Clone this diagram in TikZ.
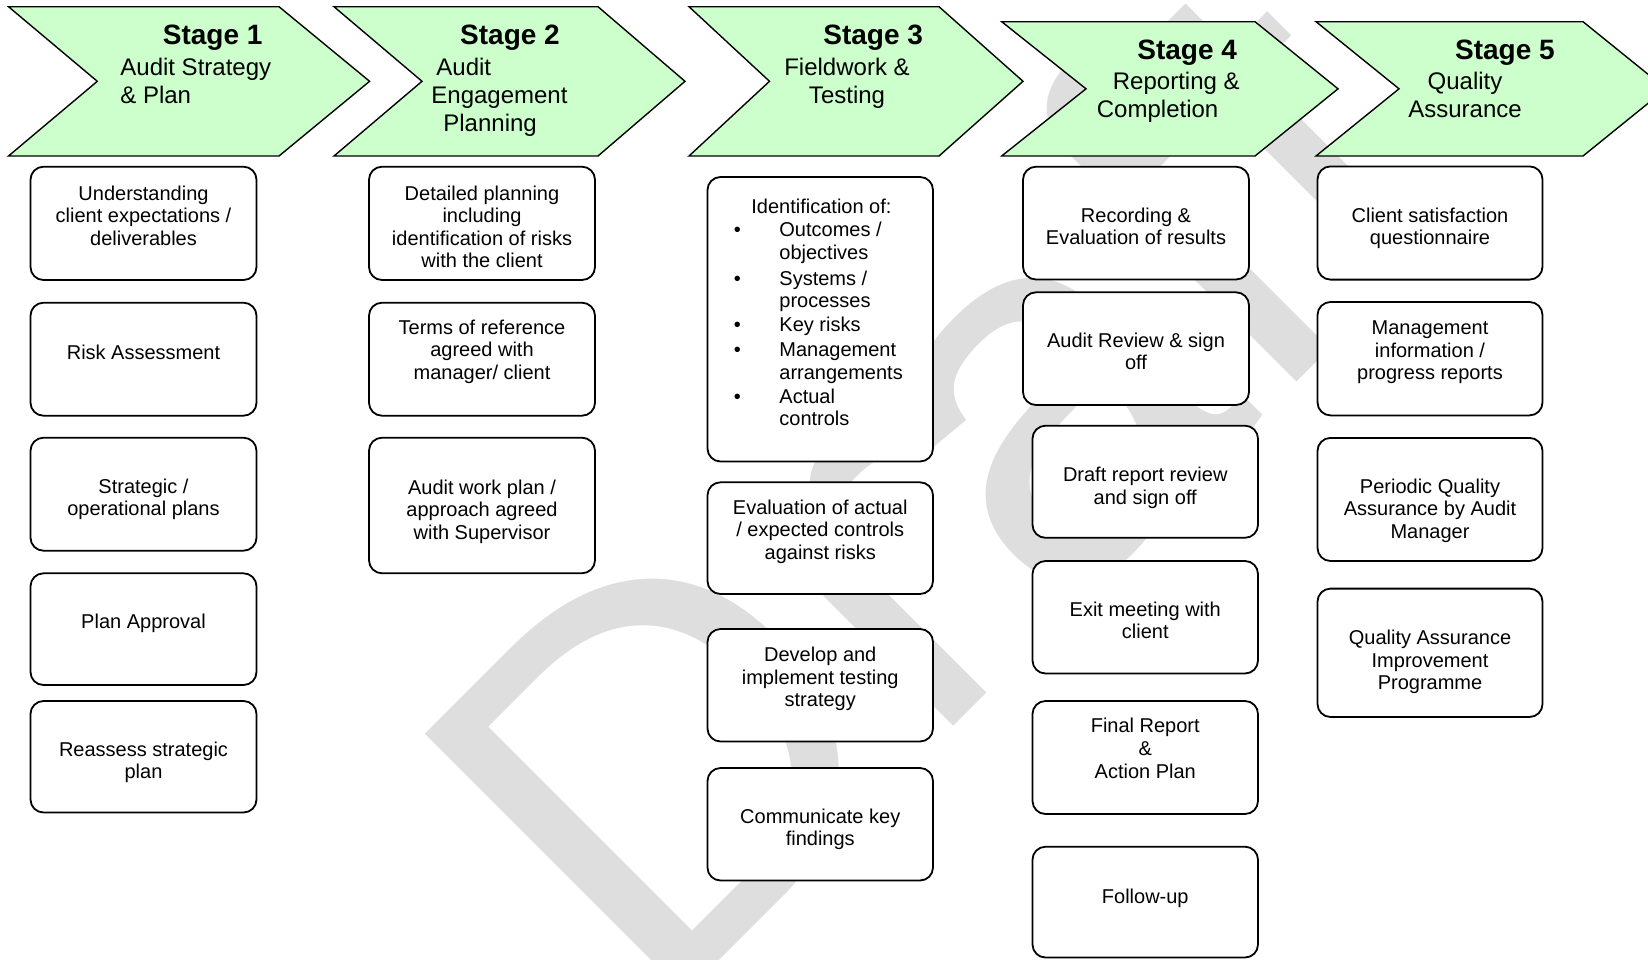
\documentclass[tikz,border=0pt]{standalone}
\usepackage{fontspec}
\setmainfont{Liberation Sans}
\usetikzlibrary{fit}
\definecolor{chevfill}{HTML}{CCFFCC}
\definecolor{wmgray}{HTML}{DEDEDE}
\newcommand\clines[1]{\begin{tabular}[t]{@{}c@{}}#1\end{tabular}}
\newcommand\llines[1]{\begin{tabular}[t]{@{}l@{}}#1\end{tabular}}
\begin{document}
\begin{tikzpicture}[x=0.5pt,y=-0.5pt,
  chevron/.style={draw=black, line width=0.7pt, fill=chevfill, line join=miter},
  box/.style={draw=black, line width=0.9pt, fill=white, rounded corners=6.5pt, inner sep=0pt, rectangle},
  txt/.style={inner sep=0pt, anchor=base, font=\fontsize{10pt}{11.3pt}\selectfont},
  ltxt/.style={txt, anchor=base west},
  stitle/.style={inner sep=0pt, anchor=base west, font=\fontsize{14pt}{16pt}\selectfont\bfseries},
  ssub/.style={inner sep=0pt, anchor=base west, font=\fontsize{12pt}{14pt}\selectfont},
  csub/.style={ssub, anchor=base},
  ]
\useasboundingbox (0,0) rectangle (1648,959);
\clip (0,0) rectangle (1648,959);
\fill[white] (0,0) rectangle (1648,959);

% watermark
\node[rotate=45, anchor=base west, inner sep=0pt, text=wmgray,
      font=\fontsize{267.5pt}{300pt}\selectfont] (wm) at (653.8,1025.7) {Draft};

% chevrons
\draw[chevron] (8.5,6.7) -- (279,6.7) -- (369.6,81.3) -- (279,156) -- (8.5,156) -- (97.3,81.3) -- cycle;
\draw[chevron] (334,6.7) -- (598,6.7) -- (685,81.3) -- (598,156) -- (334,156) -- (422,81.3) -- cycle;
\draw[chevron] (689,6.7) -- (939,6.7) -- (1023,81.3) -- (939,156) -- (689,156) -- (769.5,81.3) -- cycle;
\draw[chevron] (1001.7,21.7) -- (1255,21.7) -- (1338,88.8) -- (1255,156) -- (1001.7,156) -- (1086,88.8) -- cycle;
\draw[chevron] (1316,21.7) -- (1583,21.7) -- (1666,88.8) -- (1583,156) -- (1316,156) -- (1399,88.8) -- cycle;

% stage texts
\node[stitle] (s1t) at (162.5,44.3) {Stage 1};
\node[ssub] (s1s) at (120,75) {\llines{Audit Strategy\\\& Plan}};
\node[stitle] (s2t) at (459.8,44.3) {Stage 2};
\node[ssub] (s2s) at (431,75) {\llines{\hspace*{2.5pt}Audit\\Engagement\\\hspace*{6pt}Planning}};
\node[stitle] (s3t) at (823,44.3) {Stage 3};
\node[csub] (s3s) at (847,75) {\clines{Fieldwork \&\\Testing}};
\node[stitle] (s4t) at (1137,59.3) {Stage 4};
\node[ssub] (s4s) at (1096.5,89.5) {\llines{\hspace*{8pt}Reporting \&\\Completion}};
\node[stitle] (s5t) at (1454.7,59.3) {Stage 5};
\node[csub] (s5s) at (1465,89.5) {\clines{Quality\\Assurance}};

% column 1
\node[box, fit={(30.5,166.7)(256.5,280)}] (b11) {};
\node[box, fit={(30.5,302.7)(256.5,415.7)}] (b12) {};
\node[box, fit={(30.5,437.7)(256.5,550.7)}] (b13) {};
\node[box, fit={(30.5,573.3)(256.5,685)}] (b14) {};
\node[box, fit={(30.5,701)(256.5,812.5)}] (b15) {};
\node[txt] (t11) at (143.5,200) {\clines{Understanding\\client expectations /\\deliverables}};
\node[txt] (t12) at (143.5,359) {\clines{Risk Assessment}};
\node[txt] (t13) at (143.5,493.3) {\clines{Strategic /\\operational plans}};
\node[txt] (t14) at (143.5,628.8) {\clines{Plan Approval}};
\node[txt] (t15) at (143.5,756) {\clines{Reassess strategic\\plan}};

% column 2
\node[box, fit={(369,166.7)(595,280)}] (b21) {};
\node[box, fit={(369,302.7)(595,415.7)}] (b22) {};
\node[box, fit={(369,437.7)(595,573.3)}] (b23) {};
\begin{scope}
\clip (372,170) rectangle (592,267.3);
\node[txt] (t21) at (482,200) {\clines{Detailed planning\\including\\identification of risks\\with the client}};
\end{scope}
\node[txt] (t22) at (482,334) {\clines{Terms of reference\\agreed with\\manager/ client}};
\node[txt] (t23) at (482,494.3) {\clines{Audit work plan /\\approach agreed\\with Supervisor}};

% column 3
\node[box, fit={(707.5,177)(933,461.5)}] (b31) {};
\node[box, fit={(707.5,482.3)(933,594)}] (b32) {};
\node[box, fit={(707.5,629)(933,741.5)}] (b33) {};
\node[box, fit={(707.5,768)(933,880.5)}] (b34) {};
\node[ltxt] (t31h) at (751,213.3) {Identification of:};
\node[txt] (u1) at (737.3,236.7) {\textbullet};
\node[txt] (u2) at (737.3,285) {\textbullet};
\node[txt] (u3) at (737.3,331.7) {\textbullet};
\node[txt] (u4) at (737.3,356.7) {\textbullet};
\node[txt] (u5) at (737.3,403.3) {\textbullet};
\node[ltxt] (i1) at (779,236.7) {\llines{Outcomes /\\objectives}};
\node[ltxt] (i2) at (779,285) {\llines{Systems /\\processes}};
\node[ltxt] (i3) at (779,331.7) {\llines{Key risks}};
\node[ltxt] (i4) at (779,356.7) {\llines{Management\\arrangements}};
\node[ltxt] (i5) at (779,403.3) {\llines{Actual\\controls}};
\node[txt] (t32) at (820.25,514.3) {\clines{Evaluation of actual\\/ expected controls\\against risks}};
\node[txt] (t33) at (820.25,661.4) {\clines{Develop and\\implement testing\\strategy}};
\node[txt] (t34) at (820.25,823.3) {\clines{Communicate key\\findings}};

% column 4
\node[box, fit={(1023,166.7)(1249,279.5)}] (b41) {};
\node[box, fit={(1023,292.3)(1249,405)}] (b42) {};
\node[box, fit={(1032.5,425.7)(1258,537.8)}] (b43) {};
\node[box, fit={(1032.5,561)(1258,673.5)}] (b44) {};
\node[box, fit={(1032.5,701)(1258,814)}] (b45) {};
\node[box, fit={(1032.5,846.7)(1258,957.5)}] (b46) {};
\node[txt] (t41) at (1136,222) {\clines{Recording \&\\Evaluation of results}};
\node[txt] (t42) at (1136,347.2) {\clines{Audit Review \& sign\\off}};
\node[txt] (t43) at (1145.25,481.7) {\clines{Draft report review\\and sign off}};
\node[txt] (t44) at (1145.25,616.2) {\clines{Exit meeting with\\client}};
\node[txt] (t45) at (1145.25,732.9) {\clines{Final Report\\\&\\Action Plan}};
\node[txt] (t46) at (1145.25,903.2) {\clines{Follow-up}};

% column 5
\node[box, fit={(1317.5,166.4)(1542.5,279.6)}] (b51) {};
\node[box, fit={(1317.5,302)(1542.5,415.4)}] (b52) {};
\node[box, fit={(1317.5,437.9)(1542.5,561)}] (b53) {};
\node[box, fit={(1317.5,588.6)(1542.5,717)}] (b54) {};
\node[txt] (t51) at (1430,222) {\clines{Client satisfaction\\questionnaire}};
\node[txt] (t52) at (1430,334.6) {\clines{Management\\information /\\progress reports}};
\node[txt] (t53) at (1430,493.3) {\clines{Periodic Quality\\Assurance by Audit\\Manager}};
\node[txt] (t54) at (1430,644.6) {\clines{Quality Assurance\\Improvement\\Programme}};
\end{tikzpicture}
\end{document}
